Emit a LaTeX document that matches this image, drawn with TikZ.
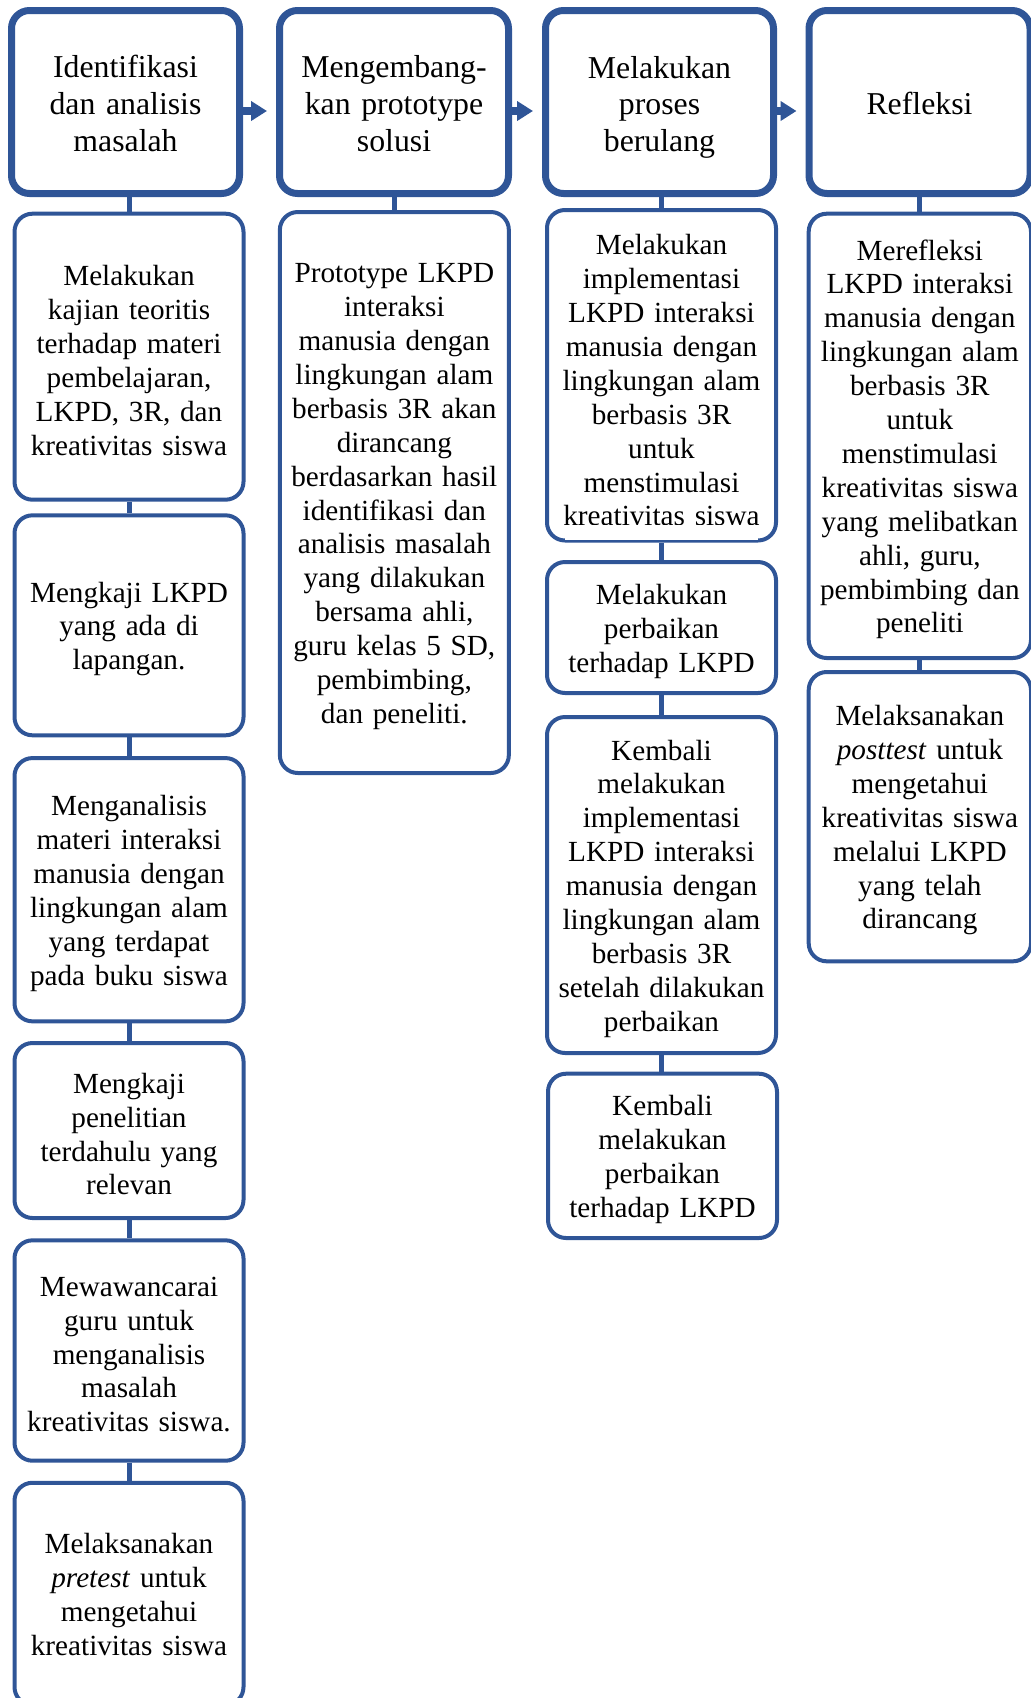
\documentclass[tikz,border=0pt]{standalone}
\usepackage{fontspec}
\setmainfont{Liberation Serif}[Ligatures={TeX,NoCommon}]
\usetikzlibrary{arrows.meta}
\definecolor{sablue}{RGB}{47,85,151}
\begin{document}
\begin{tikzpicture}[x=1pt,y=-1pt,
  hdrbox/.style={draw=sablue, line width=7pt, rounded corners=18pt, fill=white, inner sep=0pt,
    align=center, text width=205pt, minimum height=183pt, text height=25pt,
    font={\fontsize{31.8}{36.8}\selectfont}},
  subbox/.style={draw=sablue, line width=4pt, rounded corners=18pt, fill=white, inner sep=0pt,
    align=center, text width=212pt, minimum width=229pt, text height=27.5pt,
    font={\fontsize{29.2}{33.9}\selectfont}},
  conn/.style={draw=sablue, line width=5pt},
  flowarrow/.style={draw=sablue, line width=8pt, -{Triangle[length=16pt,width=19pt]}, shorten >=9pt}]
\useasboundingbox (0,0) rectangle (1031,1698);
\clip (0,0) rectangle (1031,1698);

% headers
\node[hdrbox, minimum width=228pt] (h1) at (125.5,102) {Identifikasi\\dan analisis\\masalah};
\node[hdrbox, minimum width=229pt] (h2) at (394,102) {Mengembang-\\kan prototype\\solusi};
\node[hdrbox, minimum width=228pt, text height=32.5pt] (h3) at (659.5,102) {Melakukan\\proses\\berulang};
\node[hdrbox, minimum width=221pt] (h4) at (919.5,102) {Refleksi};

% column 1
\node[subbox, minimum height=286pt] (c1a) at (129,356.7) {Melakukan\\kajian teoritis\\terhadap materi\\pembelajaran,\\LKPD, 3R, dan\\kreativitas siswa};
\node[subbox, minimum height=220pt] (c1b) at (129,625.3) {Mengkaji LKPD\\yang ada di\\lapangan.};
\node[subbox, minimum height=263.3pt] (c1c) at (129,889.7) {Menganalisis\\materi interaksi\\manusia dengan\\lingkungan alam\\yang terdapat\\pada buku siswa};
\node[subbox, minimum height=175pt] (c1d) at (129,1130.5) {Mengkaji\\penelitian\\terdahulu yang\\relevan};
\node[subbox, minimum height=220.4pt] (c1e) at (129,1350.5) {Mewawancarai\\guru untuk\\menganalisis\\masalah\\kreativitas siswa.};
\node[subbox, minimum height=222.3pt, text height=22pt] (c1f) at (129,1593.9) {Melaksanakan\\\textit{pretest} untuk\\mengetahui\\kreativitas siswa};

% column 2
\node[subbox, minimum height=561pt] (c2a) at (394.35,492.5) {Prototype LKPD\\interaksi\\manusia dengan\\lingkungan alam\\berbasis 3R akan\\dirancang\\berdasarkan hasil\\identifikasi dan\\analisis masalah\\yang dilakukan\\bersama ahli,\\guru kelas 5 SD,\\pembimbing,\\dan peneliti.};

% column 3
\node[subbox, minimum height=330.5pt, text height=30.5pt] (c3a) at (661.5,375.25) {Melakukan\\implementasi\\LKPD interaksi\\manusia dengan\\lingkungan alam\\berbasis 3R\\untuk\\menstimulasi\\kreativitas siswa};
\node[subbox, minimum height=131pt] (c3b) at (661.5,627.5) {Melakukan\\perbaikan\\terhadap LKPD};
\node[subbox, minimum height=336pt] (c3c) at (661.5,885) {Kembali\\melakukan\\implementasi\\LKPD interaksi\\manusia dengan\\lingkungan alam\\berbasis 3R\\setelah dilakukan\\perbaikan};
\node[subbox, minimum height=164.3pt] (c3d) at (662.5,1155.85) {Kembali\\melakukan\\perbaikan\\terhadap LKPD};
% the last line of c3a is cut off at the bottom of its text frame
\fill[white] ([xshift=20pt,yshift=17.5pt]c3a.south west) rectangle ([xshift=-20pt,yshift=2.3pt]c3a.south east);

% column 4
\node[subbox, minimum width=222.3pt, minimum height=444.3pt] (c4a) at (919.85,435.85) {Merefleksi\\LKPD interaksi\\manusia dengan\\lingkungan alam\\berbasis 3R\\untuk\\menstimulasi\\kreativitas siswa\\yang melibatkan\\ahli, guru,\\pembimbing dan\\peneliti};
\node[subbox, minimum width=222.3pt, minimum height=289.3pt] (c4b) at (919.85,816.65) {Melaksanakan\\\textit{posttest} untuk\\mengetahui\\kreativitas siswa\\melalui LKPD\\yang telah\\dirancang};

% connectors
\draw[conn] (c1a.north |- h1.south) -- (c1a.north);
\draw[conn] (c1a.south) -- (c1b.north);
\draw[conn] (c1b.south) -- (c1c.north);
\draw[conn] (c1c.south) -- (c1d.north);
\draw[conn] (c1d.south) -- (c1e.north);
\draw[conn] (c1e.south) -- (c1f.north);
\draw[conn] (c2a.north |- h2.south) -- (c2a.north);
\draw[conn] (c3a.north |- h3.south) -- (c3a.north);
\draw[conn] (c3a.south) -- (c3b.north);
\draw[conn] (c3b.south) -- (c3c.north);
\draw[conn] (c3c.south) -- (c3d.north -| c3c.south);
\draw[conn] (c4a.north |- h4.south) -- (c4a.north);
\draw[conn] (c4a.south) -- (c4b.north);

% arrows
\draw[flowarrow] ([yshift=-9pt]h1.east) -- ([yshift=-9pt]h2.west);
\draw[flowarrow] ([yshift=-9pt]h2.east) -- ([yshift=-9pt]h3.west);
\draw[flowarrow] ([yshift=-9pt]h3.east) -- ([yshift=-9pt]h4.west);
\end{tikzpicture}
\end{document}
